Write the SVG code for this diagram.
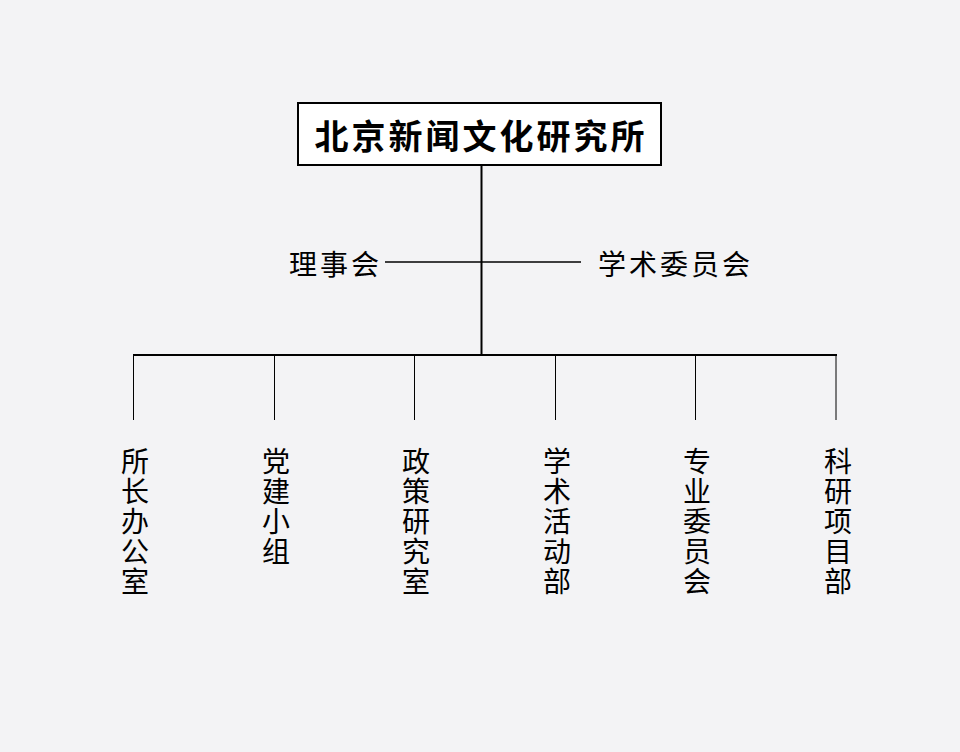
<svg xmlns="http://www.w3.org/2000/svg" width="960" height="752" viewBox="0 0 960 752">
<style>
text{font-family:"Noto Sans CJK SC","Noto Sans CJK TC",sans-serif;fill:#000}
.t{font-size:34px;font-weight:bold;letter-spacing:3px}
.s{font-size:28px;letter-spacing:3px}
.v{font-size:28px;text-anchor:middle}
.c{stroke:#000;fill:none}
</style>
<rect width="960" height="752" fill="#f3f3f5"/>
<g id="connectors">
<line class="c" x1="481.5" y1="165" x2="481.5" y2="355" stroke-width="2"/>
<line class="c" x1="385" y1="262" x2="581" y2="262" stroke-width="1.5"/>
<line class="c" x1="133" y1="355" x2="837" y2="355" stroke-width="2"/>
<line class="c" x1="133.5" y1="355" x2="133.5" y2="420" stroke-width="1"/>
<line class="c" x1="274.5" y1="355" x2="274.5" y2="420" stroke-width="1"/>
<line class="c" x1="414.5" y1="355" x2="414.5" y2="420" stroke-width="1"/>
<line class="c" x1="555.5" y1="355" x2="555.5" y2="420" stroke-width="1"/>
<line class="c" x1="695.5" y1="355" x2="695.5" y2="420" stroke-width="1"/>
<line class="c" x1="836" y1="355" x2="836" y2="420" stroke-width="1"/>
</g>
<g id="root">
<rect x="298" y="103" width="363" height="62" fill="#fff" stroke="#000" stroke-width="2"/>
<text class="t" x="481" y="149" text-anchor="middle">北京新闻文化研究所</text>
</g>
<g id="board"><text class="s" x="289" y="275">理事会</text></g>
<g id="academic"><text class="s" x="598" y="275">学术委员会</text></g>
<g id="n1"><text class="v" x="135" y="472">所</text><text class="v" x="135" y="502">长</text><text class="v" x="135" y="532">办</text><text class="v" x="135" y="562">公</text><text class="v" x="135" y="592">室</text></g>
<g id="n2"><text class="v" x="276" y="472">党</text><text class="v" x="276" y="502">建</text><text class="v" x="276" y="532">小</text><text class="v" x="276" y="562">组</text></g>
<g id="n3"><text class="v" x="416" y="472">政</text><text class="v" x="416" y="502">策</text><text class="v" x="416" y="532">研</text><text class="v" x="416" y="562">究</text><text class="v" x="416" y="592">室</text></g>
<g id="n4"><text class="v" x="557" y="472">学</text><text class="v" x="557" y="502">术</text><text class="v" x="557" y="532">活</text><text class="v" x="557" y="562">动</text><text class="v" x="557" y="592">部</text></g>
<g id="n5"><text class="v" x="697" y="472">专</text><text class="v" x="697" y="502">业</text><text class="v" x="697" y="532">委</text><text class="v" x="697" y="562">员</text><text class="v" x="697" y="592">会</text></g>
<g id="n6"><text class="v" x="838" y="472">科</text><text class="v" x="838" y="502">研</text><text class="v" x="838" y="532">项</text><text class="v" x="838" y="562">目</text><text class="v" x="838" y="592">部</text></g>
</svg>
